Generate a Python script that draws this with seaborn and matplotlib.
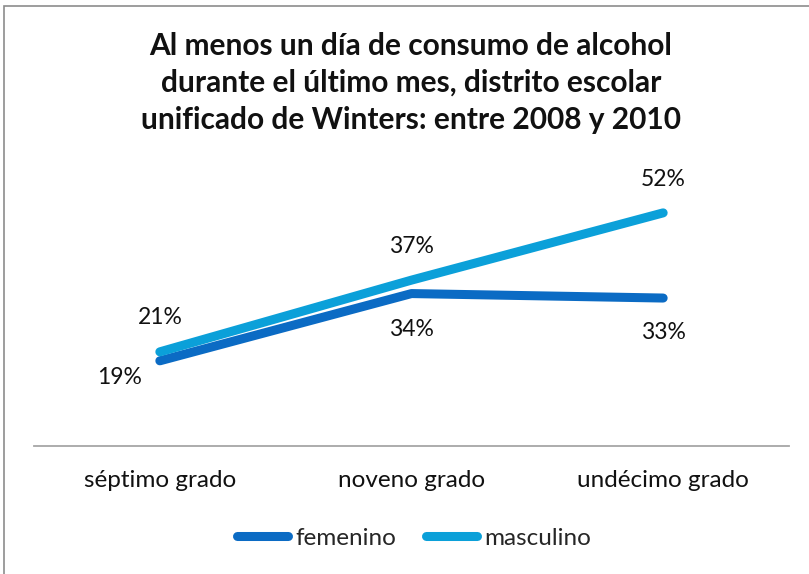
import seaborn as sns
import matplotlib.pyplot as plt
import pandas as pd
from matplotlib.patches import Rectangle

# datos
grados = ["séptimo grado", "noveno grado", "undécimo grado"]
femenino = [19, 34, 33]
masculino = [21, 37, 52]
series = ["femenino", "masculino"]
titulo = ("Al menos un día de consumo de alcohol\n"
          "durante el último mes, distrito escolar\n"
          "unificado de Winters: entre 2008 y 2010")

df = pd.DataFrame({
    "grado": grados * 2,
    "x": list(range(len(grados))) * 2,
    "valor": femenino + masculino,
    "sexo": [series[0]] * 3 + [series[1]] * 3,
})

sns.set_style("white")
plt.rcParams["font.family"] = ["Lato", "DejaVu Sans"]

fig = plt.figure(figsize=(8.09, 5.74), dpi=100)
ax = fig.add_axes([34 / 809, 1 - 446 / 574, 755 / 809, 269 / 574])

colores = {"femenino": "#0b6bc4", "masculino": "#0ba0d9"}
sns.lineplot(data=df, x="x", y="valor", hue="sexo", palette=colores,
             linewidth=6.5, solid_capstyle="round", ax=ax)

# etiquetas de datos (desplazamiento en puntos)
off_fem = [(-29, -12), (0, -26), (0, -25)]
off_mas = [(0, 25), (0, 24), (0, 24)]
for i in range(len(grados)):
    ax.annotate(f"{femenino[i]}%", (i, femenino[i]), xytext=off_fem[i],
                textcoords="offset points", ha="center", va="center",
                fontsize=16.5, color="#111111")
    ax.annotate(f"{masculino[i]}%", (i, masculino[i]), xytext=off_mas[i],
                textcoords="offset points", ha="center", va="center",
                fontsize=16.5, color="#111111")

ax.set_xlim(-0.5, 2.5)
ax.set_ylim(0, 60)
ax.set_xticks(range(len(grados)))
ax.set_xticklabels(grados, fontsize=17.5, color="#111111")
ax.tick_params(axis="x", length=0, pad=17)
ax.set_yticks([])
ax.set_xlabel("")
ax.set_ylabel("")
for s in ["top", "right", "left"]:
    ax.spines[s].set_visible(False)
ax.spines["bottom"].set_color("#a6a6a6")
ax.spines["bottom"].set_linewidth(1.3)

fig.text(411 / 809, 1 - 83 / 574, titulo, ha="center", va="center",
         fontsize=21.5, fontweight="bold", linespacing=1.37, color="#111111")

ax.legend(loc="center", bbox_to_anchor=(414 / 809, 1 - 538 / 574),
          bbox_transform=fig.transFigure, ncol=2, frameon=False,
          fontsize=17.5, handlelength=2.1, handletextpad=0.3,
          columnspacing=1.2)

fig.add_artist(Rectangle((4 / 809, -0.01), 1.0, 1 - 6 / 574 + 0.01,
                         transform=fig.transFigure, fill=False,
                         edgecolor="#8c8c8c", linewidth=1.2))

fig.savefig("out.png", dpi=100)
